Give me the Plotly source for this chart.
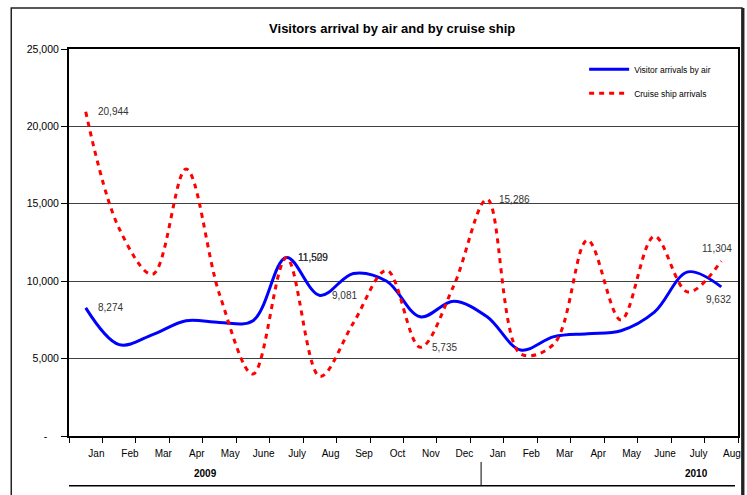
import plotly.graph_objects as go

months = ["Jan", "Feb", "Mar", "Apr", "May", "June", "July", "Aug", "Sep", "Oct", "Nov", "Dec",
          "Jan", "Feb", "Mar", "Apr", "May", "June", "July", "Aug"]
years = ["2009", "2010"]

air = [8274, 5900, 6550, 7450, 7340, 7450, 11529, 9081, 10500, 10000, 7700, 8700,
       7700, 5560, 6420, 6610, 6800, 8000, 10600, 9632]
cruise = [20944, 13400, 10450, 17250, 9150, 4000, 11509, 3850, 7300, 10700, 5735, 9700,
          15286, 5300, 5950, 12650, 7500, 12900, 9300, 11304]

air_labels = {0: "r", 6: "r", 7: "r", 19: "b"}
cruise_labels = {0: "r", 6: "r", 10: "r", 12: "r", 19: "t"}

y_ticks = [0, 5000, 10000, 15000, 20000, 25000]
y_ticktext = ["-\u00a0\u00a0\u00a0\u00a0", "5,000", "10,000", "15,000", "20,000", "25,000"]

FONT = "Liberation Sans, Arial, sans-serif"

x = list(range(len(months)))

fig = go.Figure()
fig.add_trace(go.Scatter(x=x, y=air, mode="lines", name="Visitor arrivals by air",
                         line=dict(color="#0000ff", width=3, shape="spline", smoothing=1),
                         legendgroup="a"))
fig.add_trace(go.Scatter(x=x, y=cruise, mode="lines", name="Cruise ship arrivals",
                         line=dict(color="#ff0000", width=3, shape="spline", smoothing=1, dash="5px,5px"),
                         legendgroup="b"))

annotations = []
for series, labels in ((air, air_labels), (cruise, cruise_labels)):
    for i, pos in labels.items():
        a = dict(x=x[i], y=series[i], text=f"{series[i]:,}", showarrow=False,
                 font=dict(family=FONT, size=10, color="#333333"))
        if pos == "r":
            a.update(xanchor="left", yanchor="middle", xshift=10)
        elif pos == "t":
            a.update(xanchor="center", yanchor="bottom", xshift=-4, yshift=5)
        else:
            a.update(xanchor="center", yanchor="top", xshift=-3, yshift=-5)
        annotations.append(a)

annotations.append(dict(x=0.204, y=-0.098, xref="paper", yref="paper", text=years[0], showarrow=False,
                        xanchor="center", yanchor="middle",
                        font=dict(family=FONT, size=10, color="#000", weight="bold")))
annotations.append(dict(x=0.9375, y=-0.098, xref="paper", yref="paper", text=years[1], showarrow=False,
                        xanchor="center", yanchor="middle",
                        font=dict(family=FONT, size=10, color="#000", weight="bold")))

shapes = [
    dict(type="rect", xref="paper", yref="paper", x0=-0.0863, x1=1.006, y0=-0.25, y1=1.106,
         line=dict(color="#222", width=1.5)),
    dict(type="line", xref="paper", yref="paper", x0=1.0074, x1=1.0074, y0=-0.25, y1=1.106,
         line=dict(color="#222", width=3)),
    dict(type="line", xref="paper", yref="paper", x0=0, x1=0.9955, y0=-0.1284, y1=-0.1284,
         line=dict(color="#000", width=1.5)),
    dict(type="line", xref="paper", yref="paper", x0=0.616, x1=0.616, y0=-0.067, y1=-0.1284,
         line=dict(color="#000", width=1)),
]

fig.update_layout(
    width=747, height=495,
    margin=dict(l=69, r=6, t=49, b=59),
    paper_bgcolor="white", plot_bgcolor="white",
    title=dict(text="Visitors arrival by air and by cruise ship", x=0.525, xanchor="center",
               y=0.943, yanchor="middle",
               font=dict(family=FONT, size=13, color="#000", weight="bold")),
    showlegend=True,
    legend=dict(x=0.77, y=0.985, xanchor="left", yanchor="top", bgcolor="rgba(0,0,0,0)",
                font=dict(family=FONT, size=8.5, color="#000"), tracegroupgap=5, itemwidth=40),
    annotations=annotations,
    shapes=shapes,
)
fig.update_xaxes(range=[-0.5, 19.5], tickmode="array", tickvals=[i + 0.32 for i in x], ticktext=months,
                 ticks="", showgrid=False, zeroline=False, showline=True, linecolor="#000", linewidth=2,
                 mirror=True, tickfont=dict(family=FONT, size=10, color="#000"), ticklabelstandoff=7,
                 minor=dict(tickmode="array", tickvals=[k - 0.5 for k in range(len(months) + 1)],
                            ticks="outside", ticklen=5, tickcolor="#000", tickwidth=1, showgrid=False))
fig.update_yaxes(range=[0, 25000], tickmode="array", tickvals=y_ticks, ticktext=y_ticktext,
                 ticks="outside", ticklen=6, tickcolor="#000", showgrid=True, gridcolor="#404040",
                 gridwidth=1.2, zeroline=False, showline=True, linecolor="#000", linewidth=2, mirror=True,
                 tickfont=dict(family=FONT, size=10.5, color="#000"))

fig.write_html("out.html", config={"displayModeBar": False},
               post_script="document.body.style.margin='0';document.body.style.overflow='hidden';")
